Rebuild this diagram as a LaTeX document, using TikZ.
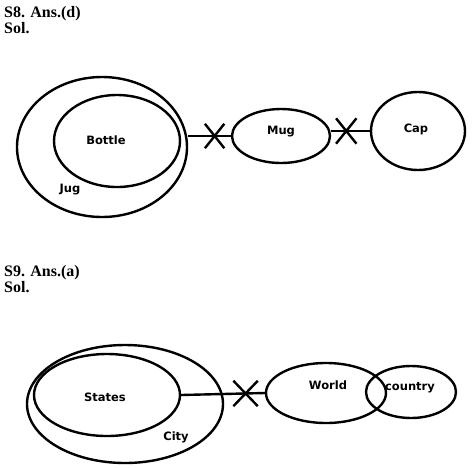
\documentclass[tikz,border=0pt]{standalone}
\usepackage{fontspec}
\setmainfont{Liberation Serif}
\newfontfamily\labelfont{DejaVu Sans}
\usetikzlibrary{
  positioning,
  shapes.geometric,
  shapes.misc
}

\begin{document}
\begin{tikzpicture}[x=1pt, y=-1pt, line width=2.4pt,
  set/.style={draw, ellipse, inner sep=0pt},
  lbl/.style={font=\labelfont\bfseries\fontsize{11.5}{13}\selectfont},
  head/.style={anchor=base west, inner sep=0pt, font=\bfseries\fontsize{16}{18}\selectfont},
  cut/.style={draw, cross out, inner sep=0pt}]
  \useasboundingbox (0,0) rectangle (474,467);
  % S8
  \node[head] (s8head) at (3,17) {S8. Ans.(d)};
  \node[head] (s8sol) at (3,33) {Sol.};
  \node[set, minimum width=170pt, minimum height=140pt] (jug) at (102,147) {};
  \node[set, minimum width=126pt, minimum height=92pt] (bottle) at (117,141) {};
  \node[set, minimum width=98pt, minimum height=54pt] (mug) at (281,136) {};
  \node[set, minimum width=94pt, minimum height=78pt] (cap) at (418,131) {};
  \node[lbl] (bottletxt) at (106,140) {Bottle};
  \node[lbl] (jugtxt) at (70,190) {Jug};
  \node[lbl] (mugtxt) at (281,132) {Mug};
  \node[lbl] (captxt) at (416,129) {Cap};
  \draw (mug.west) -- coordinate[pos=0.38] (cut1) (mug.west -| jug.east);
  \draw (cap.west) -- coordinate[pos=0.61] (cut2) (cap.west -| mug.east);
  \node[cut, minimum width=17pt, minimum height=22pt] (x1) at (cut1) {};
  \node[cut, minimum width=18pt, minimum height=23pt] (x2) at (cut2) {};
  % S9
  \node[head] (s9head) at (3,276) {S9. Ans.(a)};
  \node[head] (s9sol) at (3,292) {Sol.};
  \node[set, minimum width=196pt, minimum height=118pt] (city) at (125,404) {};
  \node[set, minimum width=146pt, minimum height=82pt] (states) at (107,395) {};
  \node[set, minimum width=120pt, minimum height=60pt] (world) at (326,393) {};
  \node[set, minimum width=90pt, minimum height=52pt] (country) at (411,392) {};
  \node[lbl] (statestxt) at (105,397) {States};
  \node[lbl] (citytxt) at (176,437) {City};
  \node[lbl] (worldtxt) at (328,385) {World};
  \node[lbl] (countrytxt) at (410,388) {country};
  \draw (states.east) -- coordinate[pos=0.77] (cut3) (world.west);
  \node[cut, minimum width=22pt, minimum height=23pt] (x3) at (cut3) {};
\end{tikzpicture}
\end{document}
